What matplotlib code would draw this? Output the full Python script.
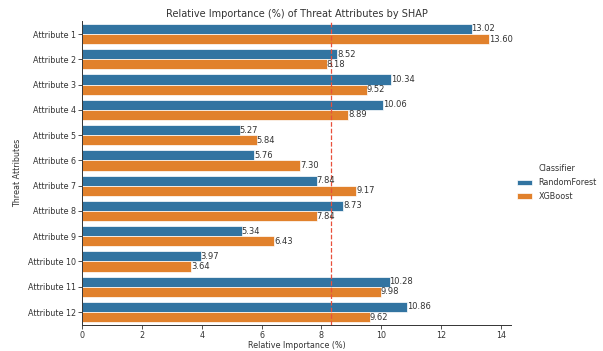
import matplotlib
matplotlib.use("Agg")
import matplotlib.pyplot as plt
import numpy as np
import seaborn as sns

attributes = [f"Attribute {i}" for i in range(1, 13)]
rf_vals = [13.02, 8.52, 10.34, 10.06, 5.27, 5.76, 7.84, 8.73, 5.34, 3.97, 10.28, 10.86]
xgb_vals = [13.60, 8.18, 9.52, 8.89, 5.84, 7.30, 9.17, 7.84, 6.43, 3.64, 9.98, 9.62]
classifiers = ["RandomForest", "XGBoost"]
mean_line = 100.0 / 12

pal = sns.color_palette("tab10", 2, desat=0.75)
TXT = "#333333"

fig = plt.figure(figsize=(6.03, 3.51), dpi=100)
ax = fig.add_axes([0.136, 0.075, 0.712, 0.864])

y = np.arange(len(attributes))
h = 0.4
for k, (vals, name) in enumerate(zip([rf_vals, xgb_vals], classifiers)):
    bars = ax.barh(y - h / 2 + k * h, vals, height=h, color=pal[k],
                   edgecolor="white", linewidth=0.5, label=name)
    for b, v in zip(bars, vals):
        ax.text(b.get_width(), b.get_y() + b.get_height() / 2, f"{v:.2f}",
                ha="left", va="center", fontsize=6, color=TXT)

ax.axvline(mean_line, color="#e8503c", ls="--", lw=0.9)

ax.set_yticks(y)
ax.set_yticklabels(attributes)
ax.set_ylim(len(attributes) - 0.5, -0.5)
ax.set_xlim(0, 14.35)
ax.set_xticks(range(0, 15, 2))
ax.tick_params(labelsize=5.8, colors=TXT, length=3, width=0.6, pad=1.5)
for s in ["top", "right"]:
    ax.spines[s].set_visible(False)
for s in ["left", "bottom"]:
    ax.spines[s].set_linewidth(0.7)
    ax.spines[s].set_color(TXT)

ax.set_xlabel("Relative Importance (%)", fontsize=5.8, color=TXT, labelpad=0.5)
ax.set_ylabel("Threat Attributes", fontsize=5.8, color=TXT, labelpad=4)
ax.set_title("Relative Importance (%) of Threat Attributes by SHAP", fontsize=7, color=TXT, pad=3)

leg = fig.legend(title="Classifier", loc="center left", bbox_to_anchor=(0.845, 0.48),
                 frameon=False, fontsize=5.8, title_fontsize=5.8,
                 handlelength=1.9, handleheight=0.6, labelspacing=0.6)
for t in leg.get_texts():
    t.set_color(TXT)
leg.get_title().set_color(TXT)

fig.savefig("out.png", dpi=100)
